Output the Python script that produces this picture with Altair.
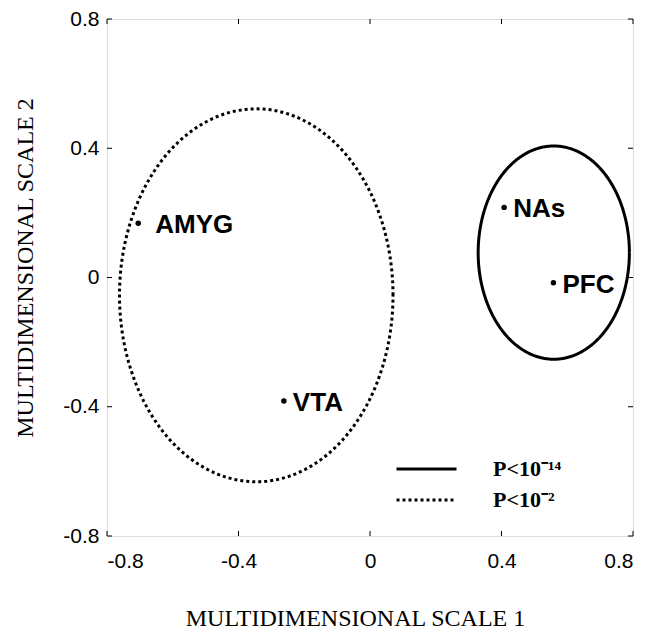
import altair as alt
import numpy as np
import pandas as pd

# --- data ---
region_names = ["AMYG", "VTA", "NAs", "PFC"]
scale1 = [-0.705, -0.262, 0.408, 0.558]
scale2 = [0.168, -0.382, 0.217, -0.016]

ellipse_labels = ["P<10\u207b\u00b9\u2074", "P<10\u207b\u00b2"]
ellipse_cx = [0.559, -0.346]
ellipse_cy = [0.077, -0.055]
ellipse_rx = [0.230, 0.416]
ellipse_ry = [0.330, 0.577]

tick_values = [-0.8, -0.4, 0.0, 0.4, 0.8]

W, H = 526, 517

pts = pd.DataFrame({"name": region_names, "x": scale1, "y": scale2})

rows = []
ang = np.linspace(0, 2 * np.pi, 241)
for lab, cx, cy, rx, ry in zip(ellipse_labels, ellipse_cx, ellipse_cy, ellipse_rx, ellipse_ry):
    for i, a in enumerate(ang):
        rows.append({"sig": lab, "i": i, "x": cx + rx * np.cos(a), "y": cy + ry * np.sin(a)})
ell = pd.DataFrame(rows)
ticks = pd.DataFrame({"v": tick_values})

xscale = alt.Scale(domain=[-0.8, 0.8], nice=False)
yscale = alt.Scale(domain=[-0.8, 0.8], nice=False)

lab_expr = "datum.value + ''"
xaxis = alt.Axis(values=tick_values, labelExpr=lab_expr,
                 grid=False, ticks=False, domain=False, labelFont="Liberation Sans", labelFontSize=21,
                 labelColor="black", labelPadding=14, title="MULTIDIMENSIONAL SCALE 1",
                 titleFont="Liberation Serif", titleFontSize=24, titleFontWeight="normal", titleColor="black",
                 titleBaseline="alphabetic", titleX=248, titleY=89)
yaxis = alt.Axis(values=tick_values, labelExpr=lab_expr,
                 grid=False, ticks=False, domain=False, labelFont="Liberation Sans", labelFontSize=21,
                 labelColor="black", labelPadding=8, title="MULTIDIMENSIONAL SCALE 2",
                 titleFont="Liberation Serif", titleFontSize=24, titleFontWeight="normal", titleColor="black",
                 titleBaseline="alphabetic", titleX=-75, titleY=248.5, titleAngle=-90)

ellipses = alt.Chart(ell).mark_line(color="black", strokeWidth=3).encode(
    x=alt.X("x:Q", scale=xscale, axis=xaxis),
    y=alt.Y("y:Q", scale=yscale, axis=yaxis),
    order="i:Q",
    strokeDash=alt.StrokeDash(
        "sig:N",
        scale=alt.Scale(domain=ellipse_labels, range=[[1, 0], [3, 3]]),
        legend=alt.Legend(
            title=None, orient="none", legendX=288, legendY=439,
            symbolType="stroke", symbolSize=3600, symbolStrokeWidth=3,
            symbolStrokeColor="black", labelFont="Liberation Serif", labelFontWeight="bold",
            labelFontSize=22, labelColor="black", labelOffset=35, clipHeight=22, rowPadding=9, padding=0,
        ),
    ),
)

dots = alt.Chart(pts).mark_circle(color="black", size=30, opacity=1).encode(
    x=alt.X("x:Q", scale=xscale), y=alt.Y("y:Q", scale=yscale)
)

lab_style = dict(font="Liberation Sans", fontWeight="bold", fontSize=26, color="black",
                 align="left", baseline="middle", dy=2)
labels_far = alt.Chart(pts).transform_filter("datum.name == 'AMYG'").mark_text(dx=17, **lab_style).encode(
    x=alt.X("x:Q", scale=xscale), y=alt.Y("y:Q", scale=yscale), text="name:N"
)
labels_near = alt.Chart(pts).transform_filter("datum.name != 'AMYG'").mark_text(dx=9, **lab_style).encode(
    x=alt.X("x:Q", scale=xscale), y=alt.Y("y:Q", scale=yscale), text="name:N"
)

tick_len = 5
tb = alt.Chart(ticks).mark_rule(color="black", strokeWidth=1).encode(
    x=alt.X("v:Q", scale=xscale), y=alt.value(H), y2=alt.value(H - tick_len))
tt = alt.Chart(ticks).mark_rule(color="black", strokeWidth=1).encode(
    x=alt.X("v:Q", scale=xscale), y=alt.value(0), y2=alt.value(tick_len))
tl = alt.Chart(ticks).mark_rule(color="black", strokeWidth=1).encode(
    y=alt.Y("v:Q", scale=yscale), x=alt.value(0), x2=alt.value(tick_len))
tr = alt.Chart(ticks).mark_rule(color="black", strokeWidth=1).encode(
    y=alt.Y("v:Q", scale=yscale), x=alt.value(W), x2=alt.value(W - tick_len))

chart = alt.layer(ellipses, dots, labels_far, labels_near, tb, tt, tl, tr).properties(
    width=W, height=H,
    autosize=alt.AutoSizeParams(type="none"),
    padding={"left": 99, "top": 11, "right": 10, "bottom": 97},
).configure_view(stroke="#222", strokeWidth=1.3).configure(background="white")

chart.save("out.html", embed_options={"renderer": "svg", "actions": False})
